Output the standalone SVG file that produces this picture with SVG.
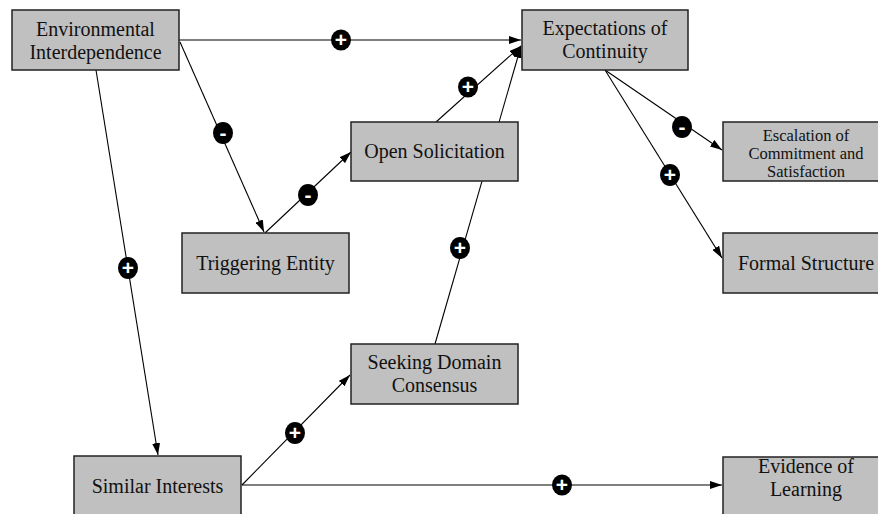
<svg xmlns="http://www.w3.org/2000/svg" width="878" height="514" viewBox="0 0 878 514">
  <style>
    .box { fill: #c0c0c0; stroke: #222; stroke-width: 1.5; }
    .lbl { font-family: 'Liberation Serif', 'DejaVu Serif', serif; font-size: 20px; fill: #111; text-anchor: middle; }
    .sm { font-size: 16.5px; }
    .edge { stroke: #000; stroke-width: 1.1; fill: none; }
    .sign { fill: #000; }
    .sgn { font-family: 'Liberation Sans', 'DejaVu Sans', sans-serif; font-weight: bold; font-size: 21px; fill: #fff; text-anchor: middle; }
  </style>
  <defs>
    <marker id="ah" viewBox="0 0 12 8" refX="12" refY="4" markerWidth="12" markerHeight="8" markerUnits="userSpaceOnUse" orient="auto">
      <path d="M0,0 L12,4 L0,8 Z" fill="#000"/>
    </marker>
  </defs>

  <rect width="878" height="514" fill="#fff"/>

  <g id="connectors">
    <line class="edge" x1="179" y1="40" x2="521" y2="40" marker-end="url(#ah)"/>
    <line class="edge" x1="180" y1="42" x2="264" y2="232" marker-end="url(#ah)"/>
    <line class="edge" x1="96" y1="70" x2="158" y2="455" marker-end="url(#ah)"/>
    <line class="edge" x1="265" y1="233" x2="351" y2="152" marker-end="url(#ah)"/>
    <line class="edge" x1="436" y1="122" x2="521" y2="46" marker-end="url(#ah)"/>
    <line class="edge" x1="435" y1="344" x2="521" y2="46" marker-end="url(#ah)"/>
    <line class="edge" x1="242" y1="485" x2="350" y2="375" marker-end="url(#ah)"/>
    <line class="edge" x1="242" y1="485" x2="722" y2="485" marker-end="url(#ah)"/>
    <line class="edge" x1="605" y1="70" x2="722" y2="150" marker-end="url(#ah)"/>
    <line class="edge" x1="605" y1="70" x2="722" y2="258" marker-end="url(#ah)"/>
  </g>

  <g font-family="Liberation Serif, DejaVu Serif, serif">
  <g id="n-environmental">
    <rect class="box" x="12" y="10" width="167" height="60"/>
    <text class="lbl" x="95.5" y="36">Environmental</text>
    <text class="lbl" x="95.5" y="59">Interdependence</text>
  </g>
  <g id="n-expectations">
    <rect class="box" x="522" y="10" width="166" height="60"/>
    <text class="lbl" x="605" y="35">Expectations of</text>
    <text class="lbl" x="605" y="58">Continuity</text>
  </g>
  <g id="n-open">
    <rect class="box" x="351" y="122" width="167" height="59"/>
    <text class="lbl" x="434.5" y="158">Open Solicitation</text>
  </g>
  <g id="n-triggering">
    <rect class="box" x="182" y="233" width="167" height="60"/>
    <text class="lbl" x="265.5" y="270">Triggering Entity</text>
  </g>
  <g id="n-seeking">
    <rect class="box" x="351" y="344" width="167" height="60"/>
    <text class="lbl" x="434.5" y="369">Seeking Domain</text>
    <text class="lbl" x="434.5" y="392">Consensus</text>
  </g>
  <g id="n-similar">
    <rect class="box" x="74" y="456" width="167" height="60"/>
    <text class="lbl" x="157.5" y="493">Similar Interests</text>
  </g>
  <g id="n-escalation">
    <rect class="box" x="723" y="122" width="166" height="59"/>
    <text class="lbl sm" x="806" y="141">Escalation of</text>
    <text class="lbl sm" x="806" y="159">Commitment and</text>
    <text class="lbl sm" x="806" y="177">Satisfaction</text>
  </g>
  <g id="n-formal">
    <rect class="box" x="723" y="233" width="166" height="60"/>
    <text class="lbl" x="806" y="270">Formal Structure</text>
  </g>
  <g id="n-evidence">
    <rect class="box" x="723" y="457" width="166" height="60"/>
    <text class="lbl" x="806" y="473">Evidence of</text>
    <text class="lbl" x="806" y="496">Learning</text>
  </g>
  </g>

  <g id="signs">
    <g><ellipse class="sign" cx="341" cy="40" rx="10" ry="10.5"/><text class="sgn" x="341" y="47">+</text></g>
    <g><ellipse class="sign" cx="223" cy="133" rx="10" ry="11"/><text class="sgn" x="223" y="140">-</text></g>
    <g><ellipse class="sign" cx="308" cy="195" rx="10" ry="11"/><text class="sgn" x="308" y="202">-</text></g>
    <g><ellipse class="sign" cx="468" cy="87" rx="10" ry="10.5"/><text class="sgn" x="468" y="94">+</text></g>
    <g><ellipse class="sign" cx="460" cy="248" rx="10" ry="11"/><text class="sgn" x="460" y="255">+</text></g>
    <g><ellipse class="sign" cx="128" cy="268" rx="10" ry="11"/><text class="sgn" x="128" y="275">+</text></g>
    <g><ellipse class="sign" cx="295" cy="433" rx="10" ry="11"/><text class="sgn" x="295" y="440">+</text></g>
    <g><ellipse class="sign" cx="562" cy="485" rx="10" ry="10.5"/><text class="sgn" x="562" y="492">+</text></g>
    <g><ellipse class="sign" cx="682" cy="127" rx="10" ry="11"/><text class="sgn" x="682" y="134">-</text></g>
    <g><ellipse class="sign" cx="670" cy="175" rx="10" ry="11"/><text class="sgn" x="670" y="182">+</text></g>
  </g>
</svg>
